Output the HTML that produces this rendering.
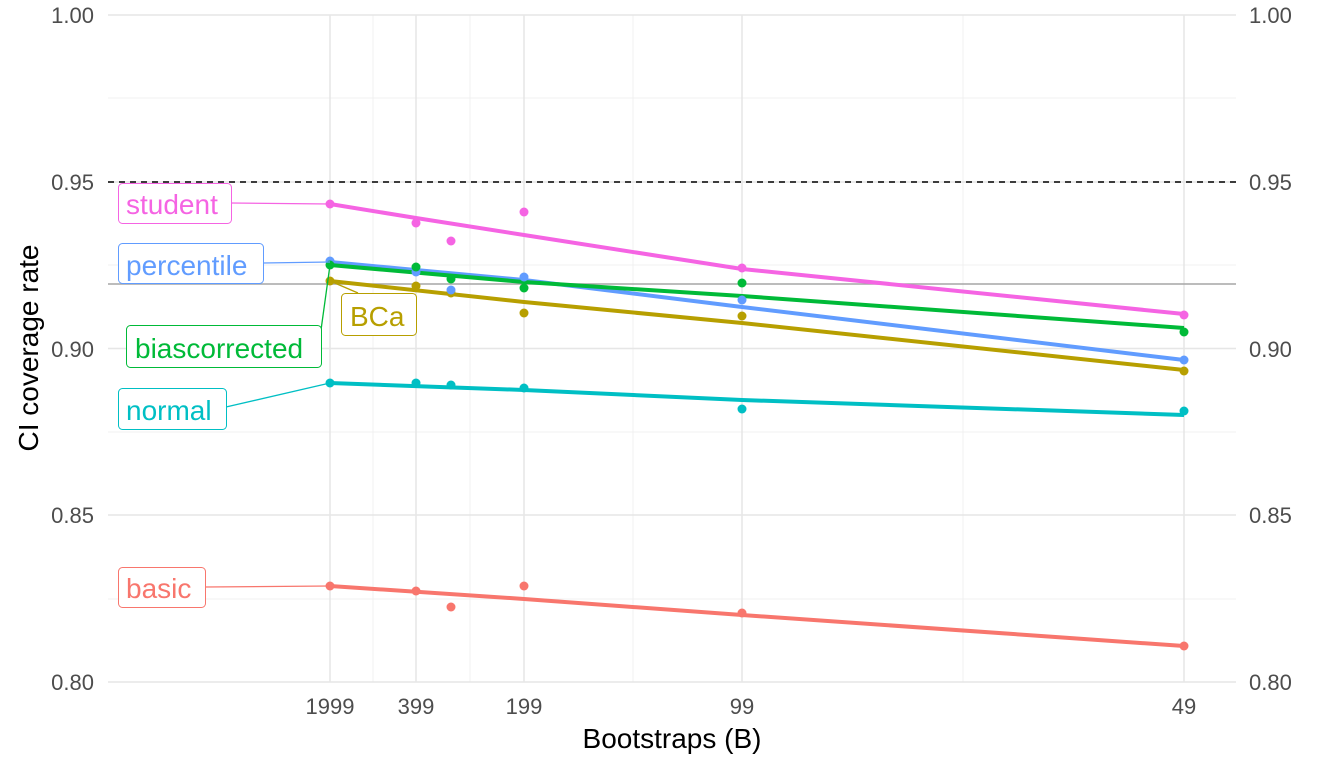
<!DOCTYPE html>
<html><head><meta charset="utf-8"><style>body{margin:0;background:#fff}svg{display:block}</style></head><body>
<svg width="1344" height="768" xmlns="http://www.w3.org/2000/svg" font-family="Liberation Sans, sans-serif">
<rect width="1344" height="768" fill="#fff"/>
<g stroke="#f0f0f0" stroke-width="1">
<line x1="108" x2="1236" y1="98" y2="98"/><line x1="108" x2="1236" y1="265" y2="265"/><line x1="108" x2="1236" y1="432" y2="432"/><line x1="108" x2="1236" y1="599" y2="599"/>
<line x1="373" x2="373" y1="15" y2="682"/><line x1="470" x2="470" y1="15" y2="682"/><line x1="633" x2="633" y1="15" y2="682"/><line x1="963" x2="963" y1="15" y2="682"/>
</g>
<g stroke="#e6e6e6" stroke-width="1.5">
<line x1="108" x2="1236" y1="15" y2="15"/><line x1="108" x2="1236" y1="182" y2="182"/><line x1="108" x2="1236" y1="348.5" y2="348.5"/><line x1="108" x2="1236" y1="515" y2="515"/><line x1="108" x2="1236" y1="682" y2="682"/>
<line x1="330" x2="330" y1="15" y2="682"/><line x1="416" x2="416" y1="15" y2="682"/><line x1="524" x2="524" y1="15" y2="682"/><line x1="742" x2="742" y1="15" y2="682"/><line x1="1184" x2="1184" y1="15" y2="682"/>
</g>
<line x1="108" x2="1236" y1="182" y2="182" stroke="#000" stroke-width="1.5" stroke-dasharray="6,5"/>
<line x1="108" x2="1236" y1="284" y2="284" stroke="#a6a6a6" stroke-width="1.5"/>
<g fill="none" stroke-width="4" stroke-linejoin="round">
<polyline stroke="#F8766D" points="330,586 524,599 742,615 1184,646"/>
<polyline stroke="#00BFC4" points="330,383 524,390 742,400 1184,415"/>
<polyline stroke="#B79F00" points="330,281 524,302 742,323 1184,370"/>
<polyline stroke="#619CFF" points="330,262 524,280 742,307 1184,360"/>
<polyline stroke="#00BA38" points="330,265 524,282 742,296 1184,328"/>
<polyline stroke="#F564E3" points="330,204 416,218 524,235 742,269 1184,314"/>
</g>
<g>
<g fill="#F8766D"><circle cx="330" cy="586" r="4.5"/><circle cx="416" cy="591" r="4.5"/><circle cx="451" cy="607" r="4.5"/><circle cx="524" cy="586" r="4.5"/><circle cx="742" cy="613" r="4.5"/><circle cx="1184" cy="646" r="4.5"/></g>
<g fill="#00BFC4"><circle cx="330" cy="383" r="4.5"/><circle cx="416" cy="383" r="4.5"/><circle cx="451" cy="385" r="4.5"/><circle cx="524" cy="388" r="4.5"/><circle cx="742" cy="409" r="4.5"/><circle cx="1184" cy="411" r="4.5"/></g>
<g fill="#B79F00"><circle cx="330" cy="281" r="4.5"/><circle cx="416" cy="286" r="4.5"/><circle cx="451" cy="293" r="4.5"/><circle cx="524" cy="313" r="4.5"/><circle cx="742" cy="316" r="4.5"/><circle cx="1184" cy="371" r="4.5"/></g>
<g fill="#619CFF"><circle cx="330" cy="261" r="4.5"/><circle cx="416" cy="272" r="4.5"/><circle cx="451" cy="290" r="4.5"/><circle cx="524" cy="277" r="4.5"/><circle cx="742" cy="300" r="4.5"/><circle cx="1184" cy="360" r="4.5"/></g>
<g fill="#00BA38"><circle cx="330" cy="265" r="4.5"/><circle cx="416" cy="267" r="4.5"/><circle cx="451" cy="279" r="4.5"/><circle cx="524" cy="288" r="4.5"/><circle cx="742" cy="283" r="4.5"/><circle cx="1184" cy="332" r="4.5"/></g>
<g fill="#F564E3"><circle cx="330" cy="204" r="4.5"/><circle cx="416" cy="223" r="4.5"/><circle cx="451" cy="241" r="4.5"/><circle cx="524" cy="212" r="4.5"/><circle cx="742" cy="268" r="4.5"/><circle cx="1184" cy="315" r="4.5"/></g>
</g>
<g stroke-width="1.3" fill="none">
<line x1="231" y1="203" x2="330" y2="204" stroke="#F564E3"/>
<line x1="263" y1="263" x2="330" y2="262" stroke="#619CFF"/>
<line x1="321" y1="330" x2="330" y2="265" stroke="#00BA38"/>
<line x1="226" y1="407" x2="330" y2="383" stroke="#00BFC4"/>
<line x1="358" y1="293" x2="330" y2="281" stroke="#B79F00"/>
<line x1="205" y1="587" x2="330" y2="586" stroke="#F8766D"/>
</g>
<g fill="#fff" stroke-width="1">
<rect x="118.5" y="183.5" width="113" height="40" rx="4" stroke="#F564E3"/>
<rect x="118.5" y="243.5" width="145" height="40" rx="4" stroke="#619CFF"/>
<rect x="126.5" y="325.5" width="195" height="42" rx="4" stroke="#00BA38"/>
<rect x="118.5" y="388.5" width="108" height="41" rx="4" stroke="#00BFC4"/>
<rect x="341.5" y="293.5" width="75" height="42" rx="4" stroke="#B79F00"/>
<rect x="118.5" y="567.5" width="87" height="40" rx="4" stroke="#F8766D"/>
</g>
<g font-size="28">
<text x="126" y="214" fill="#F564E3">student</text>
<text x="126" y="275" fill="#619CFF">percentile</text>
<text x="135" y="358" fill="#00BA38">biascorrected</text>
<text x="126" y="420" fill="#00BFC4">normal</text>
<text x="350" y="326" fill="#B79F00">BCa</text>
<text x="126" y="598" fill="#F8766D">basic</text>
</g>
<g font-size="22" fill="#4d4d4d" text-anchor="end">
<text x="94" y="23">1.00</text><text x="94" y="190">0.95</text><text x="94" y="357">0.90</text><text x="94" y="523">0.85</text><text x="94" y="690">0.80</text>
</g>
<g font-size="22" fill="#4d4d4d">
<text x="1249" y="23">1.00</text><text x="1249" y="190">0.95</text><text x="1249" y="357">0.90</text><text x="1249" y="523">0.85</text><text x="1249" y="690">0.80</text>
</g>
<g font-size="22" fill="#4d4d4d" text-anchor="middle">
<text x="330" y="714">1999</text><text x="416" y="714">399</text><text x="524" y="714">199</text><text x="742" y="714">99</text><text x="1184" y="714">49</text>
</g>
<text x="672" y="748" font-size="28" text-anchor="middle" fill="#000">Bootstraps (B)</text>
<text transform="translate(38,348) rotate(-90)" font-size="28" text-anchor="middle" fill="#000">CI coverage rate</text>
</svg>
</body></html>
